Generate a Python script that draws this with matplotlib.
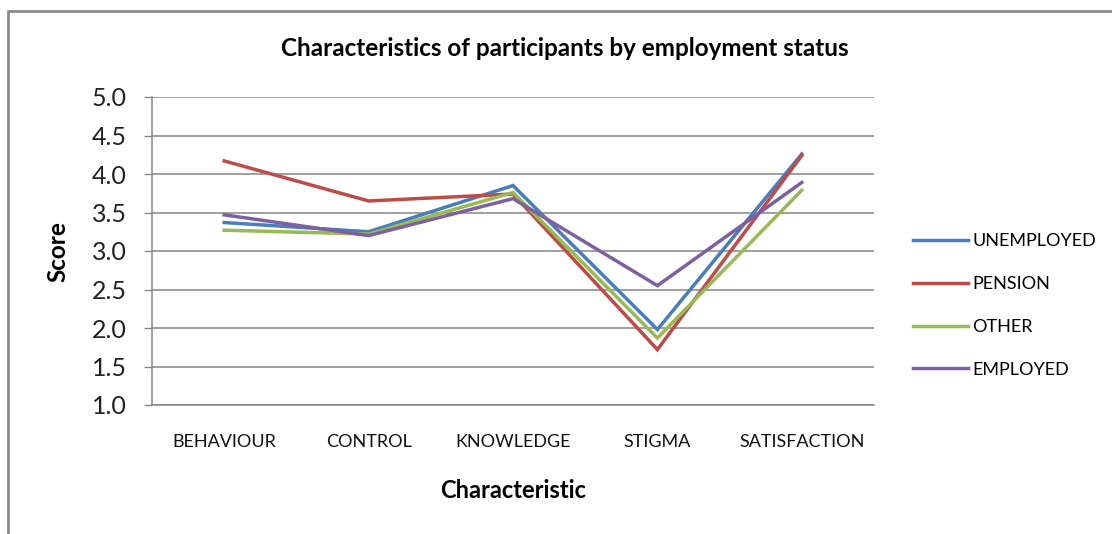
import matplotlib
matplotlib.use("Agg")
import matplotlib.pyplot as plt
from matplotlib.patches import Rectangle

plt.rcParams['font.family'] = ['Lato', 'DejaVu Sans']

# data
characteristics = ['BEHAVIOUR', 'CONTROL', 'KNOWLEDGE', 'STIGMA', 'SATISFACTION']
unemployed = [3.37, 3.25, 3.85, 1.98, 4.26]
pension = [4.17, 3.65, 3.74, 1.72, 4.24]
other = [3.27, 3.22, 3.76, 1.87, 3.79]
employed = [3.47, 3.20, 3.68, 2.55, 3.89]
y_ticks = [1.0, 1.5, 2.0, 2.5, 3.0, 3.5, 4.0, 4.5, 5.0]

series = [
    ('UNEMPLOYED', unemployed, '#4A7EBB'),
    ('PENSION', pension, '#BE4B48'),
    ('OTHER', other, '#98B954'),
    ('EMPLOYED', employed, '#7D60A0'),
]

fig = plt.figure(figsize=(11.12, 5.34), dpi=100)
ax = fig.add_axes([152 / 1112, 1 - 405 / 534, 722 / 1112, 308 / 534])

x = list(range(len(characteristics)))
for name, vals, col in series:
    ax.plot(x, vals, color=col, lw=2.5, label=name, solid_joinstyle='miter')

ax.set_xlim(-0.5, len(characteristics) - 0.5)
ax.set_ylim(1.0, 5.0)
ax.set_yticks(y_ticks)
ax.set_yticklabels([f'{v:.1f}' for v in y_ticks], fontsize=18, color='#222222')
ax.set_xticks(x)
ax.set_xticklabels(characteristics, fontsize=13, color='#111111')
ax.tick_params(axis='x', length=0, pad=21)
ax.tick_params(axis='y', length=6, width=1, color='#868686', pad=12)

ax.grid(axis='y', color='#868686', lw=1.1)
ax.set_axisbelow(True)
for s in ['top', 'right']:
    ax.spines[s].set_visible(False)
for s in ['left', 'bottom']:
    ax.spines[s].set_color('#868686')
    ax.spines[s].set_linewidth(1.1)

ax.set_ylabel('Score', fontsize=17.5, fontweight='bold', va='center')
ax.yaxis.set_label_coords(-0.130, 0.497)
ax.set_xlabel('Characteristic', fontsize=17, fontweight='bold', va='center')
ax.xaxis.set_label_coords(0.5, -0.279)
fig.text(565 / 1112, 1 - 49 / 534, 'Characteristics of participants by employment status',
         ha='center', va='center', fontsize=17.5, fontweight='bold')

ax.legend(loc='center left', bbox_to_anchor=(1.032, 0.323), frameon=False,
          fontsize=13, handlelength=3.05, handletextpad=0.2, labelspacing=1.48)

# outer chart border (only top and left visible in the crop)
fig.patches.append(Rectangle((8 / 1112, -0.1), 1.1, 1 - 11 / 534 + 0.1,
                             transform=fig.transFigure, fill=False,
                             edgecolor='#8c8c8c', lw=2))

fig.savefig('out.png', dpi=100)
